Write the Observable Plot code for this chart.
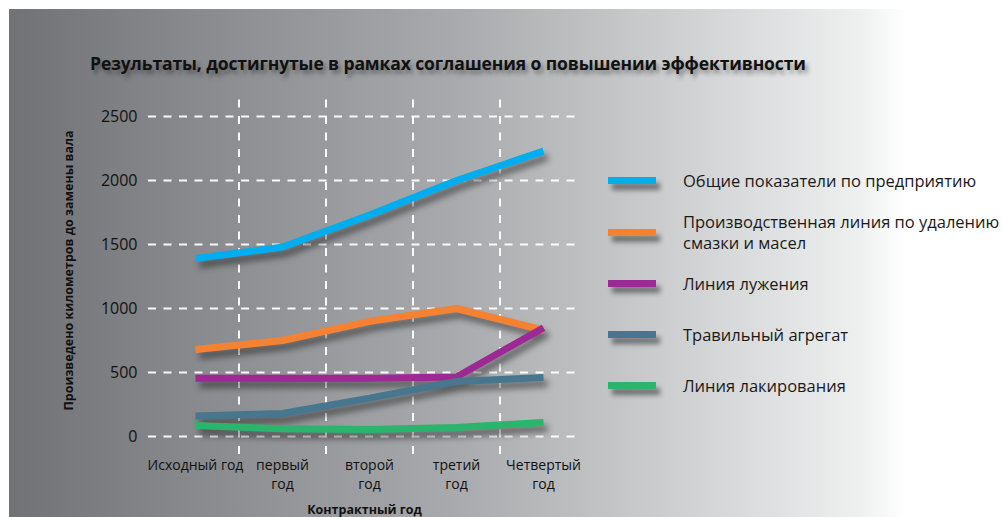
<!DOCTYPE html>
<html><head><meta charset="utf-8">
<script src="https://cdn.jsdelivr.net/npm/d3@7"></script>
<script src="https://cdn.jsdelivr.net/npm/@observablehq/plot@0.6"></script>
<style>
html,body{margin:0;padding:0;background:#fff;}
#wrap{position:relative;width:1003px;height:517px;overflow:hidden;font-family:"Open Sans",sans-serif;}
#panel{position:absolute;left:9px;top:9px;width:896px;height:520px;border-radius:0 6px 0 0;
 background:linear-gradient(to right,#717275 0%,#8a8b8e 22%,#a9aaad 50%,#cfd0d1 75%,#eeefef 95%,#ffffff 100%);}
#title{position:absolute;left:90px;top:51px;font-weight:700;font-size:17.5px;color:#111;white-space:nowrap;
 text-shadow:3px 4px 4px rgba(0,0,0,0.35);letter-spacing:-0.1px;}
#chart{position:absolute;left:0;top:0;}
#legend{position:absolute;left:608px;top:0;}
.lg{position:absolute;left:0;display:flex;align-items:center;white-space:nowrap;}
.sw{width:48px;height:7px;box-shadow:4px 6px 5px rgba(0,0,0,0.45);}
.lt{position:absolute;left:75px;font-size:16.5px;color:#1a1a1a;line-height:21px;}
</style></head>
<body>
<div id="wrap">
 <div id="panel"></div>
 <div id="title"></div>
 <div id="chart"></div>
 <div id="legend"></div>
</div>
<script>
const titleText = "Результаты, достигнутые в рамках соглашения о повышении эффективности";
const categories = ["Исходный год", "первый\nгод", "второй\nгод", "третий\nгод", "Четвертый\nгод"];
const seriesNames = ["Общие показатели по предприятию", "Производственная линия по удалению\nсмазки и масел", "Линия лужения", "Травильный агрегат", "Линия лакирования"];
const seriesColors = ["#00aeef", "#f58233", "#9d2a94", "#46778e", "#2bb46c"];
const overall = [1390, 1480, 1730, 2000, 2230];
const degreasing = [680, 750, 900, 1000, 830];
const tinning = [455, 455, 455, 465, 850];
const pickling = [160, 180, 300, 430, 460];
const lacquering = [85, 60, 55, 70, 110];
const yTicks = [0, 500, 1000, 1500, 2000, 2500];
const yLabel = "Произведено километров до замены вала";
const xLabel = "Контрактный год";

document.getElementById("title").textContent = titleText;

const allSeries = [overall, degreasing, tinning, pickling, lacquering];
const data = [];
allSeries.forEach((vals, s) => vals.forEach((v, i) => data.push({s, i, v})));
const idx = categories.map((c, i) => i);
const bounds = idx.slice(0, -1).map(i => i + 0.5);

const plot = Plot.plot({
  width: 1003, height: 517,
  marginLeft: 148, marginRight: 423, marginTop: 116, marginBottom: 81,
  style: {background: "transparent", fontFamily: "Open Sans, sans-serif", overflow: "visible"},
  x: {type: "linear", domain: [-0.54, 4.425]},
  y: {domain: [0, 2500]},
  color: {type: "ordinal", domain: [0,1,2,3,4], range: seriesColors},
  marks: [
    Plot.ruleY(yTicks, {stroke: "#fff", strokeWidth: 2, strokeDasharray: "8,7.5", strokeOpacity: 0.95}),
    Plot.ruleX(bounds, {y1: -140, y2: 2640, stroke: "#fff", strokeWidth: 2, strokeDasharray: "8,8.5", strokeOpacity: 0.95}),
    Plot.axisY(yTicks, {tickSize: 0, tickPadding: 11, fontSize: 16, fill: "#111", label: null, tickFormat: d => String(d)}),
    Plot.axisX(idx, {tickSize: 0, tickPadding: 21, fontSize: 14, fill: "#111", tickFormat: i => categories[i], label: null, lineHeight: 1.3}),
    Plot.text([yLabel], {frameAnchor: "left", dx: -80, dy: -6, rotate: -90, textAnchor: "middle", fontWeight: 700, fontSize: 12.5, fill: "#111"}),
    Plot.text([xLabel], {frameAnchor: "bottom", dy: 77, fontWeight: 700, fontSize: 12.5, fill: "#111"}),
    Plot.line(data, {x: "i", y: "v", z: "s", stroke: "s", strokeWidth: 7, strokeLinejoin: "miter", strokeLinecap: "butt"})
  ]
});
document.getElementById("chart").appendChild(plot);
plot.querySelectorAll('g[aria-label="line"]').forEach(g => {
  g.style.filter = "drop-shadow(4px 6px 3px rgba(0,0,0,0.45))";
});

const rowY = [180, 232, 283, 334, 385];
const legend = document.getElementById("legend");
seriesNames.forEach((name, k) => {
  const row = document.createElement("div");
  row.className = "lg";
  row.style.top = (rowY[k] - 3.5) + "px";
  const sw = document.createElement("div");
  sw.className = "sw"; sw.style.background = seriesColors[k];
  row.appendChild(sw);
  const lines = name.split("\n");
  const t = document.createElement("div");
  t.className = "lt";
  t.style.top = (3.5 - lines.length * 10.5) + "px";
  t.innerHTML = lines.join("<br>");
  row.appendChild(t);
  legend.appendChild(row);
});
</script>
</body></html>
